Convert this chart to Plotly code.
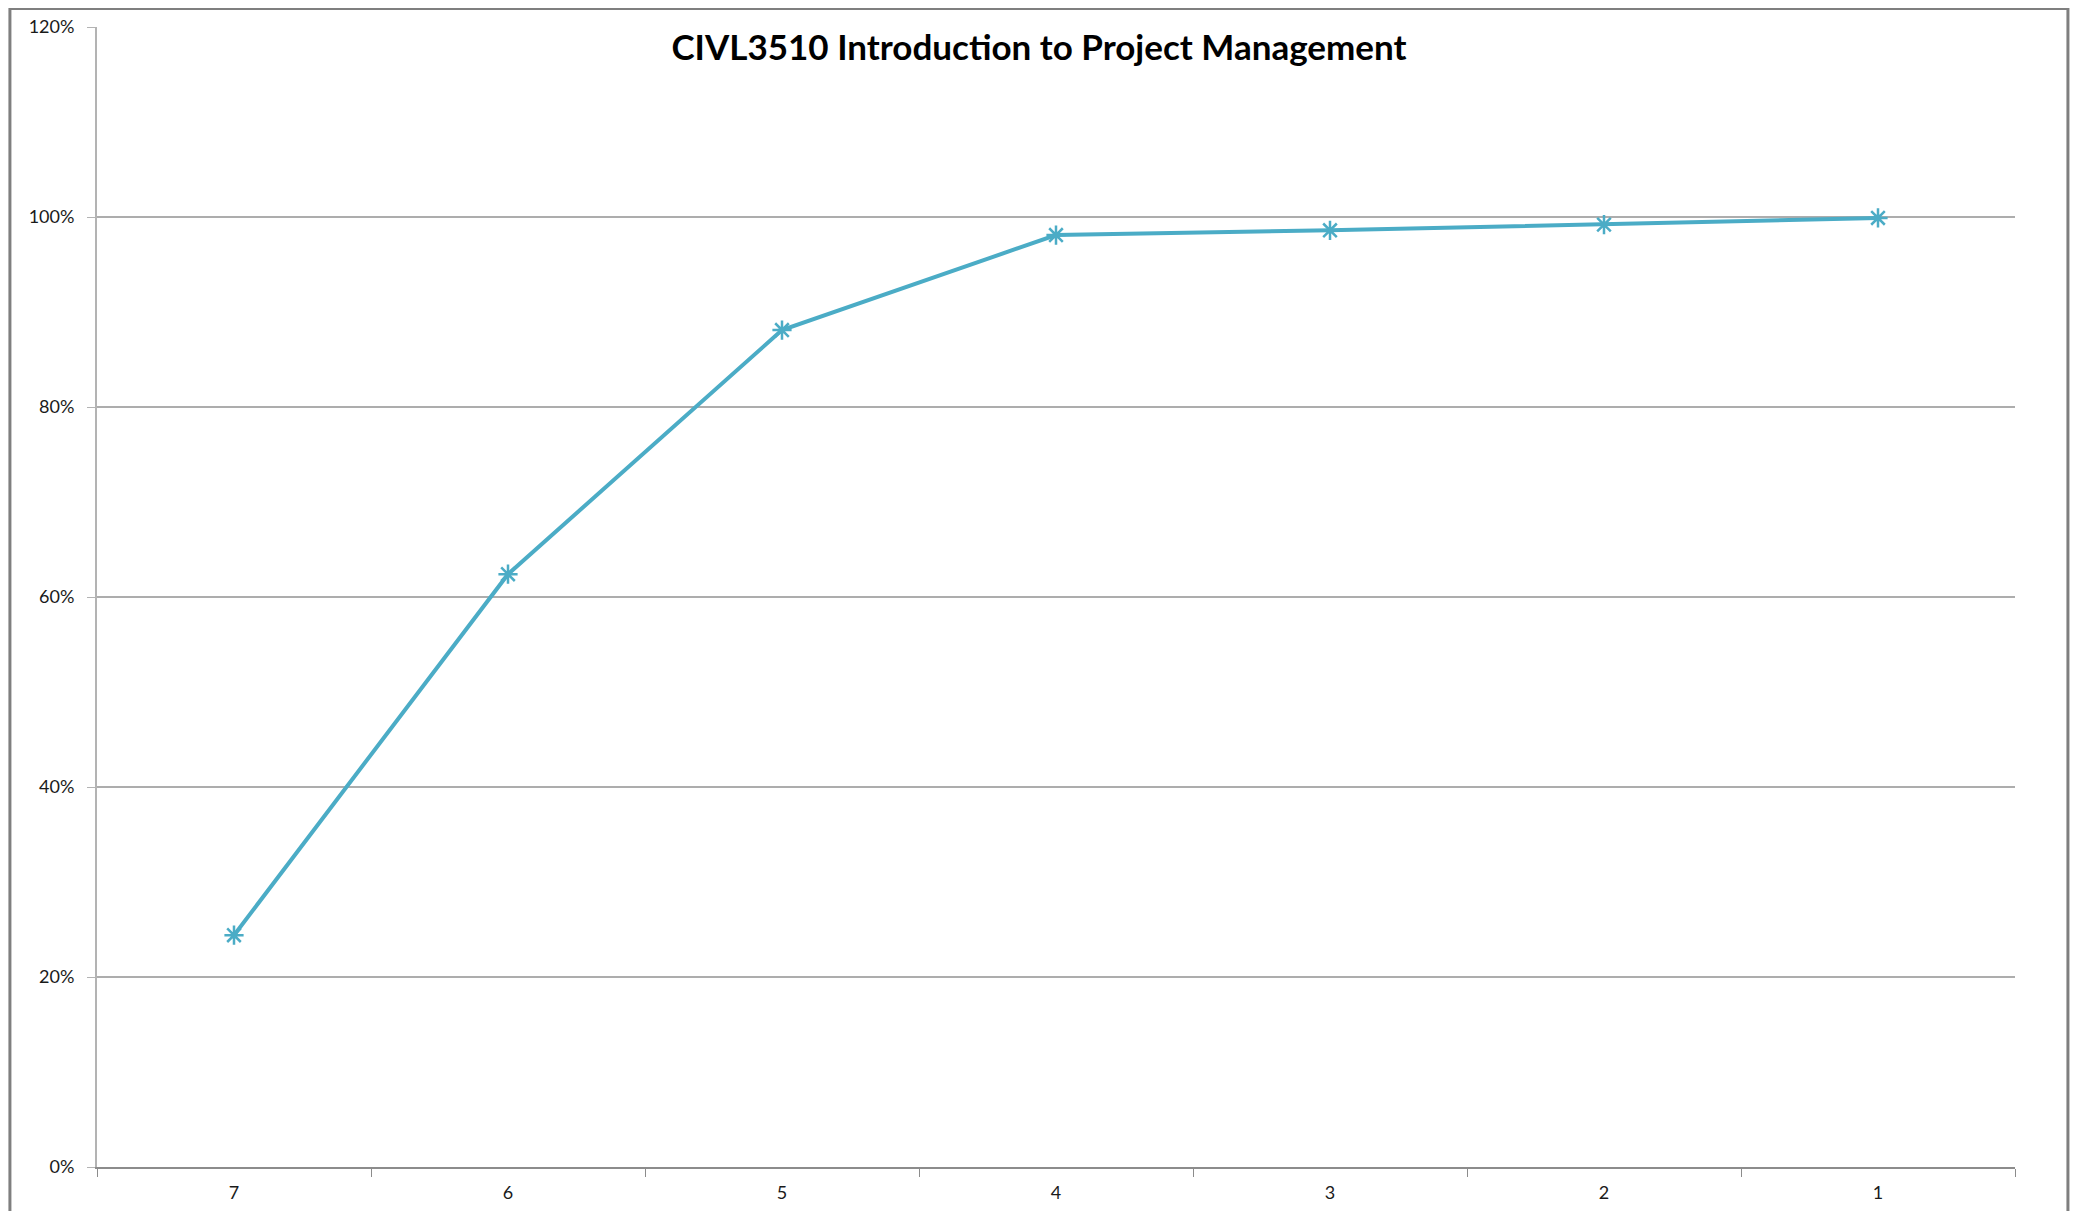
import plotly.graph_objects as go

# cumulative share by grade
grades = ["7", "6", "5", "4", "3", "2", "1"]
cumulative = [0.244, 0.624, 0.881, 0.981, 0.986, 0.992, 0.999]

title_text = "CIVL3510 Introduction to Project Management"
line_color = "#4BACC6"

fig = go.Figure()

fig.add_trace(go.Scatter(
    x=grades,
    y=cumulative,
    mode="lines+markers",
    line=dict(color=line_color, width=4),
    marker=dict(symbol="asterisk-open", size=16,
                line=dict(color=line_color, width=2.5)),
    showlegend=False,
))

# outer chart border (cut off at the bottom like the screenshot)
fig.add_shape(type="rect", xref="paper", yref="paper",
              x0=-0.0454, x1=1.0276, y0=-0.06, y1=1.0162,
              line=dict(color="#7f7f7f", width=3), layer="below")

# page body has an 8px margin, so the figure is a bit smaller than the window
fig.update_layout(
    width=2062, height=1203,
    margin=dict(l=89, r=55, t=19, b=44, autoexpand=False),
    paper_bgcolor="white",
    plot_bgcolor="white",
    font=dict(family="Lato, Carlito, Liberation Sans", color="#1a1a1a", size=18),
    title=dict(text="<b>" + title_text + "</b>", x=0.5, xanchor="center",
               y=0.967, yanchor="middle",
               font=dict(size=35, color="#000000")),
)

fig.update_xaxes(
    type="category",
    automargin=False,
    showgrid=False,
    showline=True, linecolor="#8c8c8c", linewidth=2,
    ticks="outside", tickson="boundaries", ticklen=8, tickcolor="#8c8c8c",
    tickfont=dict(size=18),
    ticklabelstandoff=8,
    range=[-0.5, 6.5],
)

fig.update_yaxes(
    automargin=False,
    range=[0, 1.2], dtick=0.2, tickformat=".0%",
    showgrid=True, gridcolor="#adadad", gridwidth=1.5,
    showline=True, linecolor="#b3b3b3", linewidth=2,
    ticks="outside", ticklen=8, tickcolor="#b3b3b3",
    tickfont=dict(size=18),
    ticklabelstandoff=9,
    zeroline=False,
)

fig.write_html("out.html")
